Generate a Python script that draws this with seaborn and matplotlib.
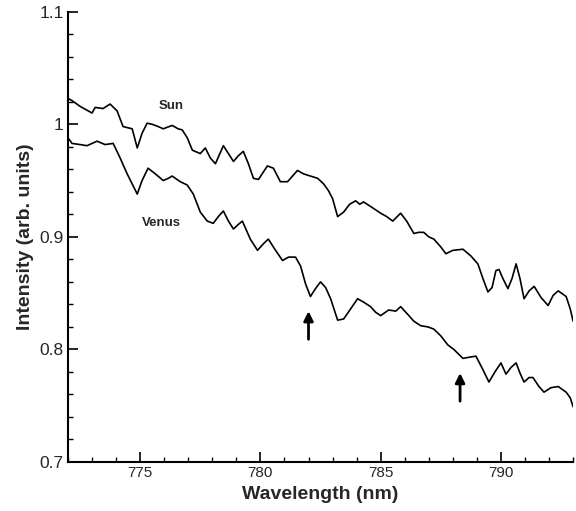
import numpy as np
import pandas as pd
from matplotlib import pyplot as plt
from matplotlib.ticker import MultipleLocator, FuncFormatter
import seaborn as sns

# spectra
sun_wl = [772.0, 772.17, 772.5, 773.0, 773.13, 773.46, 773.75, 774.04, 774.29, 774.67,
          774.88, 775.08, 775.29, 775.5, 775.75, 775.96, 776.33, 776.58, 776.75, 776.96,
          777.17, 777.5, 777.71, 777.92, 778.13, 778.46, 778.67, 778.88, 779.08, 779.29,
          779.5, 779.71, 779.92, 780.29, 780.54, 780.83, 781.13, 781.54, 781.79, 782.08,
          782.38, 782.63, 782.83, 783.0, 783.21, 783.46, 783.71, 783.96, 784.13, 784.29,
          784.58, 785.0, 785.25, 785.5, 785.83, 786.08, 786.38, 786.58, 786.79, 787.0,
          787.21, 787.5, 787.71, 788.0, 788.42, 788.75, 789.04, 789.25, 789.46, 789.63,
          789.79, 789.92, 790.08, 790.29, 790.46, 790.63, 790.79, 790.96, 791.17, 791.38,
          791.67, 791.96, 792.17, 792.38, 792.71, 792.88, 793.0]
sun_int = [1.023, 1.021, 1.016, 1.010, 1.015, 1.014, 1.018, 1.012, 0.998, 0.996,
           0.979, 0.992, 1.001, 1.000, 0.998, 0.996, 0.999, 0.996, 0.995, 0.988,
           0.977, 0.974, 0.979, 0.970, 0.965, 0.981, 0.974, 0.967, 0.972, 0.976,
           0.965, 0.952, 0.951, 0.963, 0.961, 0.949, 0.949, 0.959, 0.956, 0.954,
           0.952, 0.947, 0.941, 0.934, 0.918, 0.922, 0.929, 0.932, 0.929, 0.931,
           0.927, 0.921, 0.918, 0.914, 0.921, 0.914, 0.903, 0.904, 0.904, 0.900,
           0.898, 0.891, 0.885, 0.888, 0.889, 0.883, 0.876, 0.863, 0.851, 0.855,
           0.870, 0.871, 0.863, 0.854, 0.863, 0.876, 0.863, 0.845, 0.852, 0.856,
           0.846, 0.839, 0.848, 0.852, 0.847, 0.836, 0.825]

venus_wl = [772.0, 772.17, 772.5, 772.79, 773.21, 773.54, 773.88, 774.17, 774.46, 774.67,
            774.88, 775.08, 775.33, 775.63, 775.96, 776.17, 776.33, 776.67, 776.96, 777.21,
            777.5, 777.79, 778.04, 778.25, 778.46, 778.67, 778.88, 779.08, 779.25, 779.58,
            779.88, 780.13, 780.33, 780.63, 780.92, 781.17, 781.46, 781.67, 781.88, 782.08,
            782.29, 782.5, 782.71, 782.92, 783.21, 783.46, 783.75, 784.04, 784.29, 784.58,
            784.79, 785.0, 785.33, 785.63, 785.83, 786.13, 786.38, 786.67, 786.96, 787.21,
            787.5, 787.79, 788.04, 788.42, 788.67, 788.96, 789.25, 789.5, 789.75, 790.0,
            790.21, 790.42, 790.63, 790.79, 790.96, 791.17, 791.33, 791.58, 791.79, 792.08,
            792.38, 792.71, 792.88, 793.0]
venus_int = [0.988, 0.983, 0.982, 0.981, 0.985, 0.982, 0.983, 0.970, 0.956, 0.947,
             0.938, 0.950, 0.961, 0.956, 0.950, 0.952, 0.954, 0.949, 0.946, 0.938,
             0.922, 0.914, 0.912, 0.918, 0.923, 0.914, 0.907, 0.911, 0.914, 0.898,
             0.888, 0.894, 0.898, 0.888, 0.879, 0.882, 0.882, 0.874, 0.858, 0.847,
             0.854, 0.860, 0.855, 0.845, 0.826, 0.827, 0.836, 0.845, 0.842, 0.838,
             0.833, 0.830, 0.835, 0.834, 0.838, 0.831, 0.825, 0.821, 0.820, 0.818,
             0.812, 0.804, 0.800, 0.792, 0.793, 0.794, 0.782, 0.771, 0.780, 0.788,
             0.778, 0.784, 0.788, 0.779, 0.771, 0.775, 0.775, 0.767, 0.762, 0.766,
             0.767, 0.762, 0.757, 0.749]

# arrows: (wavelength, tail, head)
arrow_wl = [782.0, 788.3]
arrow_tail = [0.809, 0.754]
arrow_head = [0.834, 0.779]

sns.set_style('ticks')
plt.rcParams['font.family'] = ['Liberation Sans', 'DejaVu Sans']

fig = plt.figure(figsize=(5.76, 5.11), dpi=100)
ax = fig.add_axes([0.118, 0.096, 0.877, 0.881])

sun = pd.DataFrame({'wl': sun_wl, 'I': sun_int})
venus = pd.DataFrame({'wl': venus_wl, 'I': venus_int})
sns.lineplot(data=sun, x='wl', y='I', color='black', lw=1.2, estimator=None, sort=False,
             solid_joinstyle='round', ax=ax)
sns.lineplot(data=venus, x='wl', y='I', color='black', lw=1.2, estimator=None, sort=False,
             solid_joinstyle='round', ax=ax)

ax.text(776.3, 1.016, 'Sun', fontsize=9.5, fontweight='bold', ha='center', va='center')
ax.text(775.9, 0.912, 'Venus', fontsize=9.5, fontweight='bold', ha='center', va='center')

for wl, t, h in zip(arrow_wl, arrow_tail, arrow_head):
    ax.annotate('', xy=(wl, h), xytext=(wl, t),
                arrowprops=dict(arrowstyle='-|>', color='black', lw=2, mutation_scale=14,
                                shrinkA=0, shrinkB=0))

ax.set_xlim(772, 793)
ax.set_ylim(0.7, 1.1)
ax.xaxis.set_major_locator(MultipleLocator(5))
ax.xaxis.set_minor_locator(MultipleLocator(1))
ax.yaxis.set_major_locator(MultipleLocator(0.1))
ax.yaxis.set_minor_locator(MultipleLocator(0.02))
ax.yaxis.set_major_formatter(FuncFormatter(lambda v, p: '%g' % round(v, 2)))

ax.tick_params(which='major', direction='in', length=7, width=1.2, color='black')
ax.tick_params(which='minor', direction='in', length=3.5, width=1, color='black')
ax.tick_params(axis='x', labelsize=11, pad=3)
ax.tick_params(axis='y', labelsize=12.5, pad=3)

ax.set_xlabel('Wavelength (nm)', fontsize=14, fontweight='bold', labelpad=4)
ax.set_ylabel('Intensity (arb. units)', fontsize=14, fontweight='bold', labelpad=4)

sns.despine(ax=ax)
for s in ['left', 'bottom']:
    ax.spines[s].set_linewidth(1.5)
    ax.spines[s].set_color('black')

fig.savefig('out.png', dpi=100)
